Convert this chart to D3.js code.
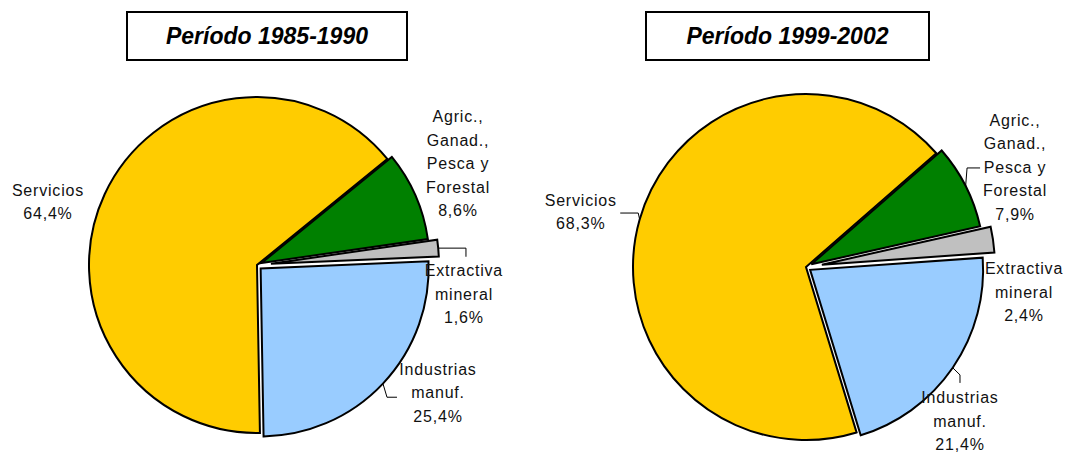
<!DOCTYPE html>
<html>
<head>
<meta charset="utf-8">
<script src="https://cdn.jsdelivr.net/npm/d3@7"></script>
<style>
  body { margin: 0; background: #fff; }
  text { font-family: "Liberation Sans", Arial, sans-serif; }
</style>
</head>
<body>
<div id="my_dataviz"></div>
<script>
// data
var sectors = ["Servicios", "Agric.,\nGanad.,\nPesca y\nForestal", "Extractiva\nmineral", "Industrias\nmanuf."];
var periods = ["Período 1985-1990", "Período 1999-2002"];
var values1 = [64.4, 8.6, 1.6, 25.4];
var values2 = [68.3, 7.9, 2.4, 21.4];
var pctLabels1 = ["64,4%", "8,6%", "1,6%", "25,4%"];
var pctLabels2 = ["68,3%", "7,9%", "2,4%", "21,4%"];
var colors = ["#FFCC00", "#008000", "#C0C0C0", "#99CCFF"];

var width = 1066, height = 455;

var svg = d3.select("#my_dataviz").append("svg")
    .attr("width", width)
    .attr("height", height);

// layout of each pie (positions, explosion, label nudges)
var layouts = [
  { cx: 257, cy: 265, r: 168, start: 179, box: [127, 12, 280, 48],
    explode: [0, 5, 14, 5],
    labelOff: [[-11, 28.5], [1, -14], [-10.5, 49], [22, -22]],
    leader: [null, null, {end: [2, -37], kind: "v"}, {end: [-41, 4.5], elbow: [-10, 0]}] },
  { cx: 806, cy: 267, r: 173, start: 163, box: [646, 12, 283, 48],
    explode: [0, 6, 16, 5],
    labelOff: [[-9, 6.6], [8.5, 1.5], [-4.5, 57.7], [-31.4, 26.6]],
    leader: [{end: [39.5, 1.2], elbow: [18, 0]}, {end: [-35, 1.2], elbow: [-13, 0]}, null, {end: [0, -38], elbow: [0, -8]}] }
];
var allValues = [values1, values2];
var allPct = [pctLabels1, pctLabels2];
var lineH = 23.5;

layouts.forEach(function(L, k) {
  var g = svg.append("g");

  // title box
  g.append("rect")
    .attr("x", L.box[0]).attr("y", L.box[1])
    .attr("width", L.box[2]).attr("height", L.box[3])
    .attr("fill", "#fff").attr("stroke", "#000").attr("stroke-width", 2);
  g.append("text")
    .attr("x", L.box[0] + L.box[2] / 2)
    .attr("y", L.box[1] + L.box[3] / 2)
    .attr("dy", "0.36em")
    .attr("text-anchor", "middle")
    .style("font-size", "23px")
    .style("font-weight", "bold")
    .style("font-style", "italic")
    .text(periods[k]);

  var pie = d3.pie().sort(null).value(function(d) { return d; })
    .startAngle(L.start * Math.PI / 180)
    .endAngle(L.start * Math.PI / 180 + 2 * Math.PI);
  var arcs = pie(allValues[k]);
  var arc = d3.arc().innerRadius(0).outerRadius(L.r);

  function mid(d) { return (d.startAngle + d.endAngle) / 2; }

  var pg = g.append("g").attr("transform", "translate(" + L.cx + "," + L.cy + ")");

  pg.selectAll("path.slice")
    .data(arcs)
    .enter().append("path")
      .attr("class", "slice")
      .attr("transform", function(d, i) {
        var a = mid(d), e = L.explode[i];
        return "translate(" + (Math.sin(a) * e) + "," + (-Math.cos(a) * e) + ")";
      })
      .attr("d", arc)
      .attr("fill", function(d, i) { return colors[i]; })
      .attr("stroke", "#000")
      .attr("stroke-width", 2)
      .attr("stroke-linejoin", "miter");

  // labels
  var R = L.r * 1.3;
  arcs.forEach(function(d, i) {
    var a = mid(d);
    var lx = Math.sin(a) * R + L.labelOff[i][0];
    var ly = -Math.cos(a) * R + L.labelOff[i][1];
    var lines = sectors[i].split("\n").concat([allPct[k][i]]);
    var t = pg.append("text")
      .attr("text-anchor", "middle")
      .style("font-size", "16px")
      .style("letter-spacing", "0.8px")
      .attr("fill", "#111");
    lines.forEach(function(s, j) {
      t.append("tspan")
        .attr("x", lx)
        .attr("y", ly + (j - (lines.length - 1) / 2) * lineH)
        .attr("dy", "0.36em")
        .text(s);
    });

    var ld = L.leader[i];
    if (ld) {
      var e = L.explode[i] + L.r;
      var p0 = [Math.sin(a) * e, -Math.cos(a) * e];
      var p2 = [lx + ld.end[0], ly + ld.end[1]];
      var p1 = ld.kind === "v" ? [p2[0], p0[1]] : [p2[0] + ld.elbow[0], p2[1] + ld.elbow[1]];
      pg.append("path")
        .attr("d", d3.line()([p0, p1, p2]))
        .attr("fill", "none")
        .attr("stroke", "#000")
        .attr("stroke-width", 1);
    }
  });
});
</script>
</body>
</html>
